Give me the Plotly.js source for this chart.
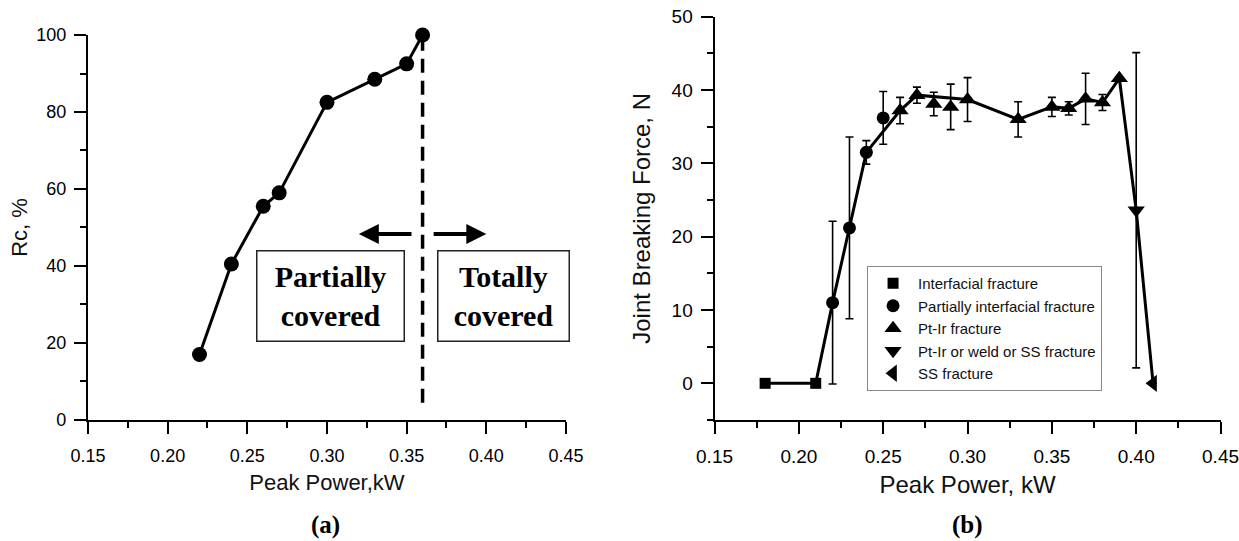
<!DOCTYPE html>
<html>
<head>
<meta charset="utf-8">
<script src="https://cdn.plot.ly/plotly-3.0.1.min.js"></script>
<style>html,body{margin:0;padding:0;background:#fff;}#chart{width:1239px;height:541px;}</style>
</head>
<body>
<div id="chart"></div>
<script>
// ---- Panel (a): coverage ratio vs peak power ----
const rcPower = [0.22, 0.24, 0.26, 0.27, 0.30, 0.33, 0.35, 0.36];
const rcValue = [17, 40.5, 55.5, 59, 82.5, 88.5, 92.5, 100];
const boundaryPower = 0.36;

// ---- Panel (b): joint breaking force vs peak power ----
const power    = [0.18, 0.21, 0.22, 0.23, 0.24, 0.25, 0.26, 0.27, 0.28, 0.29, 0.30, 0.33, 0.35, 0.36, 0.37, 0.38, 0.39, 0.40, 0.41];
const force    = [0, 0, 11, 21.2, 31.5, 36.2, 37.2, 39.3, 38.1, 37.7, 38.7, 36.0, 37.7, 37.5, 38.8, 38.3, 41.6, 23.6, 0];
const forceErr = [0, 0, 11.1, 12.4, 1.6, 3.6, 1.8, 1.1, 1.6, 3.1, 3.0, 2.4, 1.3, 0.9, 3.5, 1.1, 0, 21.5, 0];
const fracture = ['IF','IF','PIF','PIF','PIF','PIF','PT','PT','PT','PT','PT','PT','PT','PT','PT','PT','PT','PWS','SS'];
const onLine   = [true,true,true,true,true,false,true,true,false,false,true,true,true,true,true,true,true,true,true];
const fractureNames = {
  IF: 'Interfacial fracture',
  PIF: 'Partially interfacial fracture',
  PT: 'Pt-Ir fracture',
  PWS: 'Pt-Ir or weld or SS fracture',
  SS: 'SS fracture'
};
const fractureOrder = ['IF','PIF','PT','PWS','SS'];
const fractureSymbols = {IF:'square', PIF:'circle', PT:'triangle-up', PWS:'triangle-down', SS:'triangle-left'};
const fractureSizes = {IF:11, PIF:13, PT:15, PWS:15, SS:15};

const sans = 'Liberation Sans, Arial, sans-serif';
const serif = 'Liberation Serif, Times New Roman, serif';
const ink = '#000';

const traces = [];
traces.push({
  x: rcPower, y: rcValue, xaxis: 'x', yaxis: 'y', type: 'scatter', mode: 'lines+markers',
  line: {color: ink, width: 3}, marker: {color: ink, size: 15, symbol: 'circle'},
  showlegend: false, hoverinfo: 'x+y', cliponaxis: false
});
traces.push({
  x: power.filter((_, i) => onLine[i]), y: force.filter((_, i) => onLine[i]),
  xaxis: 'x2', yaxis: 'y2', type: 'scatter', mode: 'lines',
  line: {color: ink, width: 3}, showlegend: false, hoverinfo: 'skip'
});
fractureOrder.forEach(k => {
  const idx = fracture.map((f, i) => f === k ? i : -1).filter(i => i >= 0);
  traces.push({
    x: idx.map(i => power[i]), y: idx.map(i => force[i]),
    xaxis: 'x2', yaxis: 'y2', type: 'scatter', mode: 'markers', name: fractureNames[k],
    marker: {color: ink, size: fractureSizes[k], symbol: fractureSymbols[k]},
    error_y: {type: 'data', array: idx.map(i => forceErr[i]), visible: true, color: ink, thickness: 1.6, width: 4},
    cliponaxis: false
  });
});

function axisBase(extra) {
  return Object.assign({
    showline: true, linewidth: 2, linecolor: ink, mirror: false,
    ticks: 'outside', ticklen: 12, tickwidth: 2, tickcolor: ink,
    showgrid: false, zeroline: false, automargin: false, ticklabeloverflow: 'allow',
    tickfont: {family: sans, size: 18, color: '#000'}
  }, extra);
}

const layout = {
  width: 1239, height: 541,
  margin: {l: 0, r: 0, t: 0, b: 0, pad: 0},
  paper_bgcolor: '#fff', plot_bgcolor: '#fff',
  showlegend: true,
  legend: {
    x: 0.6998, y: 0.5083, xanchor: 'left', yanchor: 'top',
    bgcolor: '#fff', bordercolor: '#888', borderwidth: 1, itemwidth: 40,
    font: {family: sans, size: 15, color: '#111'}, tracegroupgap: 0
  },
  xaxis: axisBase({
    domain: [0.0710, 0.4568], range: [0.15, 0.45], anchor: 'y',
    tick0: 0.15, dtick: 0.05, tickformat: '.2f', ticklabelstandoff: 6,
    minor: {ticks: 'outside', ticklen: 6, tickwidth: 2, tickcolor: ink, dtick: 0.025, showgrid: false},
    title: {text: 'Peak Power,kW', font: {family: sans, size: 22, color: '#111'}, standoff: 10}
  }),
  yaxis: axisBase({
    domain: [0.2237, 0.9353], range: [0, 100], anchor: 'x',
    tick0: 0, dtick: 20, ticklabelstandoff: 4,
    minor: {ticks: 'outside', ticklen: 6, tickwidth: 2, tickcolor: ink, dtick: 10, showgrid: false},
    title: {text: 'Rc, %', font: {family: sans, size: 22, color: '#111'}, standoff: 3}
  }),
  xaxis2: axisBase({
    domain: [0.5767, 0.9851], range: [0.15, 0.45], anchor: 'y2',
    tick0: 0.15, dtick: 0.05, tickformat: '.2f', ticklabelstandoff: 6,
    tickfont: {family: sans, size: 19, color: '#000'},
    minor: {ticks: 'outside', ticklen: 6, tickwidth: 2, tickcolor: ink, dtick: 0.025, showgrid: false},
    title: {text: 'Peak Power, kW', font: {family: sans, size: 24, color: '#111'}, standoff: 10}
  }),
  yaxis2: axisBase({
    domain: [0.2237, 0.9691], range: [-5, 50], anchor: 'x2',
    tickvals: [0, 10, 20, 30, 40, 50], ticklabelstandoff: 4,
    tickfont: {family: sans, size: 19, color: '#000'},
    minor: {ticks: 'outside', ticklen: 6, tickwidth: 2, tickcolor: ink, dtick: 5, tick0: 0, showgrid: false},
    title: {text: 'Joint Breaking Force, N', font: {family: sans, size: 24, color: '#111'}, standoff: 14}
  }),
  shapes: [
    {type: 'line', xref: 'x', yref: 'y', x0: boundaryPower, x1: boundaryPower, y0: 4.5, y1: 100,
     line: {color: ink, width: 3.5, dash: '14px,8px'}, layer: 'below'}
  ],
  annotations: [
    {xref: 'x', yref: 'y', axref: 'x', ayref: 'y', x: 0.320, y: 48.3, ax: 0.354, ay: 48.3,
     text: '', showarrow: true, arrowhead: 2, arrowsize: 1, arrowwidth: 4, arrowcolor: ink},
    {xref: 'x', yref: 'y', axref: 'x', ayref: 'y', x: 0.400, y: 48.3, ax: 0.366, ay: 48.3,
     text: '', showarrow: true, arrowhead: 2, arrowsize: 1, arrowwidth: 4, arrowcolor: ink},
    {xref: 'x', yref: 'y', x: 0.3025, y: 32.25, xanchor: 'center', yanchor: 'middle',
     text: 'Partially<br>covered', showarrow: false, width: 146, height: 89, borderpad: 0,
     bordercolor: '#222', borderwidth: 1.5, bgcolor: '#fff', align: 'center',
     font: {family: serif, size: 30, color: '#000', weight: 'bold'}},
    {xref: 'x', yref: 'y', x: 0.4108, y: 32.25, xanchor: 'center', yanchor: 'middle',
     text: 'Totally<br>covered', showarrow: false, width: 130, height: 89, borderpad: 0,
     bordercolor: '#222', borderwidth: 1.5, bgcolor: '#fff', align: 'center',
     font: {family: serif, size: 30, color: '#000', weight: 'bold'}},
    {xref: 'paper', yref: 'paper', x: 0.263, y: 0.0296, xanchor: 'center', yanchor: 'middle',
     text: '<b>(a)</b>', showarrow: false, font: {family: serif, size: 25, color: '#000'}},
    {xref: 'paper', yref: 'paper', x: 0.781, y: 0.0296, xanchor: 'center', yanchor: 'middle',
     text: '<b>(b)</b>', showarrow: false, font: {family: serif, size: 25, color: '#000'}}
  ]
};

Plotly.newPlot('chart', traces, layout, {displayModeBar: false, staticPlot: true});
</script>
</body>
</html>
